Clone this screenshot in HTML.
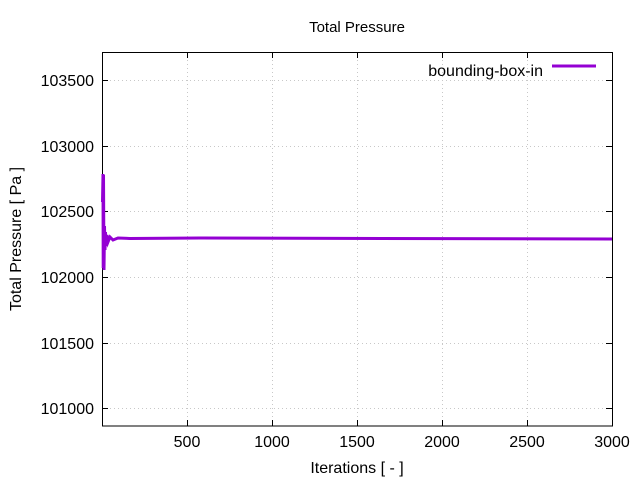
<!DOCTYPE html><html><head><style>body{margin:0;background:#fff}svg{display:block}text{font-family:"Liberation Sans",sans-serif;font-size:16px;fill:#000}</style></head><body>
<svg width="640" height="480" viewBox="0 0 640 480">
<g stroke="#c8c8c8" stroke-dasharray="1,3" stroke-width="1">
<line x1="102" x2="612" y1="80.5" y2="80.5"/><line x1="102" x2="612" y1="146.5" y2="146.5"/><line x1="102" x2="612" y1="211.5" y2="211.5"/><line x1="102" x2="612" y1="277.5" y2="277.5"/><line x1="102" x2="612" y1="343.5" y2="343.5"/><line x1="102" x2="612" y1="408.5" y2="408.5"/>
<line x1="187.5" x2="187.5" y1="52" y2="426"/><line x1="272.5" x2="272.5" y1="52" y2="426"/><line x1="357.5" x2="357.5" y1="52" y2="426"/><line x1="442.5" x2="442.5" y1="52" y2="426"/><line x1="527.5" x2="527.5" y1="52" y2="426"/>
</g>
<g stroke="#000" stroke-width="1">
<rect x="102.5" y="52.5" width="510" height="373.5" fill="none"/>
<path d="M102 80.5h6M102 146.5h6M102 211.5h6M102 277.5h6M102 343.5h6M102 408.5h6M612 80.5h-6M612 146.5h-6M612 211.5h-6M612 277.5h-6M612 343.5h-6M612 408.5h-6M187.5 426v-6M272.5 426v-6M357.5 426v-6M442.5 426v-6M527.5 426v-6M187.5 52v6M272.5 52v6M357.5 52v6M442.5 52v6M527.5 52v6"/>
</g>
<g text-anchor="end"><text x="94" y="86">103500</text><text x="94" y="152">103000</text><text x="94" y="217">102500</text><text x="94" y="283">102000</text><text x="94" y="349">101500</text><text x="94" y="414">101000</text></g>
<g text-anchor="middle"><text x="187" y="447">500</text><text x="272" y="447">1000</text><text x="357" y="447">1500</text><text x="442" y="447">2000</text><text x="527" y="447">2500</text><text x="612" y="447">3000</text>
<text x="357" y="473">Iterations [ - ]</text><text x="357" y="32" style="font-size:15px">Total Pressure</text>
<text transform="translate(21,239) rotate(-90)">Total Pressure [ Pa ]</text></g>
<text x="543" y="76" text-anchor="end">bounding-box-in</text>
<line x1="552" x2="596" y1="66" y2="66" stroke="#9400d3" stroke-width="3"/>
<path d="M102.5 202 L103 174 L103.2 268 L103.5 175 L104 270 L104.5 226 L105 250 L105.5 232 L106 246 L107 235 L108 242 L110 237 L113 240 L118 238 L130 238.5 L200 238 L612 239" fill="none" stroke="#9400d3" stroke-width="3"/>
</svg></body></html>
